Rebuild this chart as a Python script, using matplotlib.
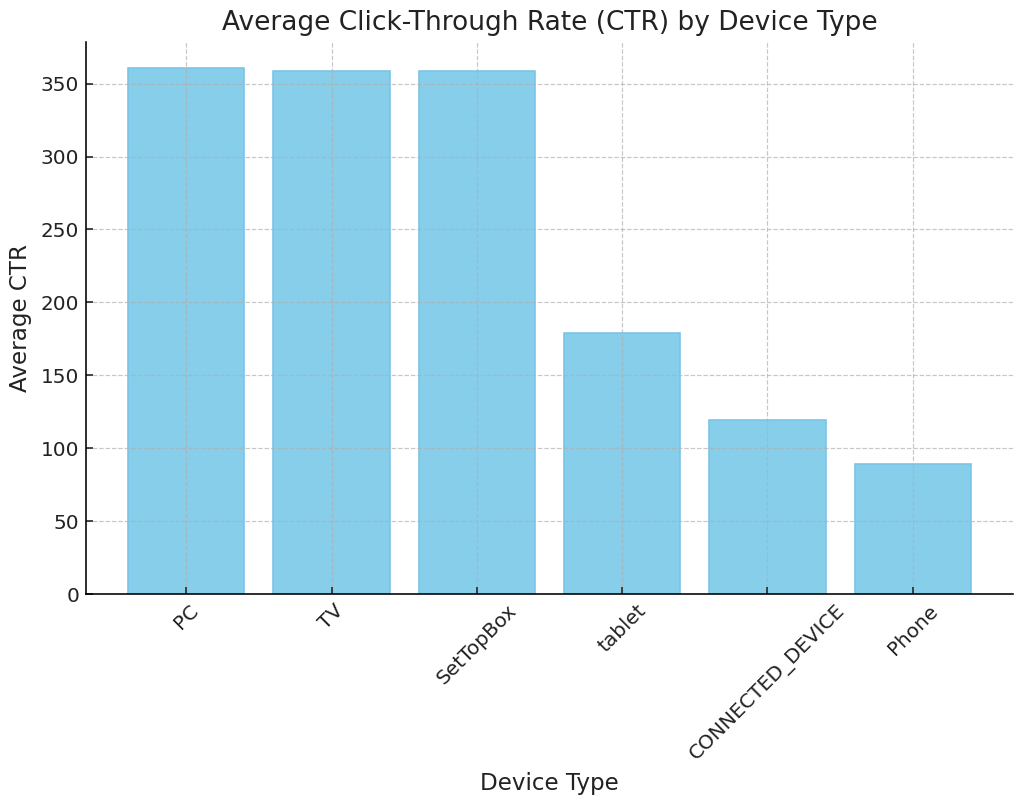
import matplotlib
matplotlib.use("Agg")
import matplotlib.pyplot as plt

devices = ["PC", "TV", "SetTopBox", "tablet", "CONNECTED_DEVICE", "Phone"]
avg_ctr = [360.5, 358.9, 358.9, 178.9, 119.5, 89.3]

plt.rcParams['font.family'] = ['DejaVu Sans']
plt.rcParams['text.color'] = '#222222'
plt.rcParams['axes.labelcolor'] = '#222222'
plt.rcParams['xtick.color'] = '#222222'
plt.rcParams['ytick.color'] = '#222222'

fig = plt.figure(figsize=(1024/144, 804/144), dpi=144)
ax = fig.add_axes([86/1024, 1 - 594/804, (1013-86)/1024, (594-42)/804])

ax.bar(devices, avg_ctr, width=0.8, color='skyblue', edgecolor='#79c4e8', linewidth=0.8)
ax.grid(True, linestyle='--', color='#b0b0b0', alpha=0.7, linewidth=0.6)
ax.spines['top'].set_visible(False)
ax.spines['right'].set_visible(False)
ax.tick_params(direction='in', labelsize=10)
ax.set_title("Average Click-Through Rate (CTR) by Device Type", fontsize=13.2)
ax.set_xlabel("Device Type", fontsize=11.5)
ax.set_ylabel("Average CTR", fontsize=11.5)
plt.setp(ax.get_xticklabels(), rotation=45)

fig.savefig("out.png", dpi=144)
